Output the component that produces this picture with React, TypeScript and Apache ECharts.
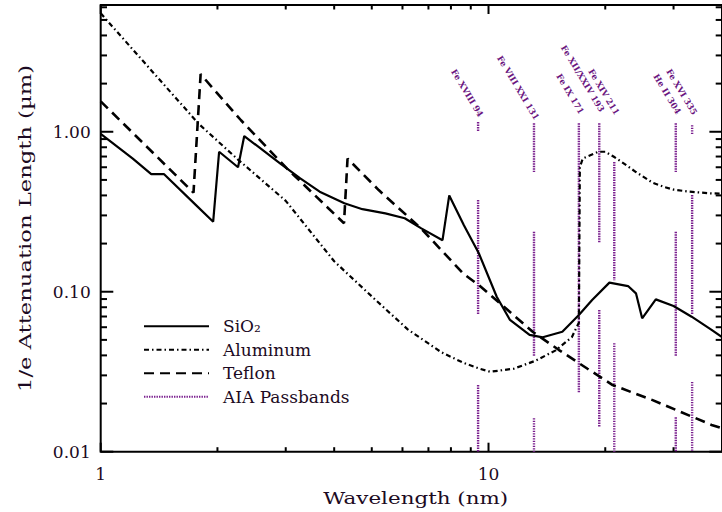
import React, { useEffect, useRef } from 'react';
import * as echarts from 'echarts';

// ---- data ----
const xRange: [number, number] = [1, 40];
const yRange: [number, number] = [0.01, 6.2];

const sio2: [number, number][] = [
  [1, 0.97], [1.21, 0.68], [1.35, 0.544], [1.455, 0.544], [1.75, 0.353], [1.95, 0.274],
  [2.02, 0.75], [2.26, 0.6], [2.345, 0.94], [2.9, 0.635], [3.27, 0.511], [3.67, 0.422],
  [4.25, 0.357], [4.73, 0.328], [5.42, 0.309], [6.08, 0.288], [6.71, 0.249], [7.61, 0.21],
  [7.92, 0.4], [8.64, 0.26], [9.44, 0.174], [10.5, 0.093], [11.36, 0.0666], [12.76, 0.0537],
  [13.8, 0.0519], [15.5, 0.0562], [17.1, 0.0715], [18.5, 0.0887], [20.5, 0.114], [22.9, 0.1085],
  [24.0, 0.0977], [24.9, 0.0682], [27.0, 0.0896], [30.0, 0.0814], [33.4, 0.0698], [37.6, 0.0577],
  [40, 0.052],
];

const aluminum: [number, number][] = [
  [1, 5.5], [1.79, 1.12], [2.26, 0.67], [3.0, 0.37], [4.0, 0.155], [5.11, 0.089], [6.2, 0.058],
  [7.54, 0.042], [8.6, 0.036], [9.5, 0.033], [10.1, 0.0316], [11.6, 0.033], [13.2, 0.037],
  [14.9, 0.043], [16.4, 0.052], [17.1, 0.064], [17.2, 0.6], [17.5, 0.68], [18.0, 0.7],
  [19.2, 0.75], [20.0, 0.75], [21.0, 0.7], [22.0, 0.65], [24.0, 0.56], [26.5, 0.48],
  [28.5, 0.45], [30.0, 0.435], [33.0, 0.422], [37.5, 0.412], [40, 0.41],
];

const teflon: [number, number][] = [
  [1, 1.55], [1.735, 0.416], [1.81, 2.29], [2.3, 1.18], [3.02, 0.59], [4.24, 0.268],
  [4.33, 0.68], [5.21, 0.432], [6.71, 0.248], [8.6, 0.13], [9.44, 0.11], [11.0, 0.08],
  [13.0, 0.0562], [15.2, 0.0432], [18.0, 0.033], [20.9, 0.0261], [26.5, 0.021],
  [33.4, 0.0166], [37.6, 0.0147], [40, 0.014],
];

const passbandWavelengths = [9.4, 13.1, 17.1, 19.3, 21.1, 30.4, 33.5];
const passbandSegments: [number, number][][] = [
  [[1.15, 1.01], [0.374, 0.0715], [0.0261, 0.01]],
  [[1.13, 0.56], [0.237, 0.0392], [0.0162, 0.01]],
  [[1.13, 0.0232]],
  [[1.13, 0.204], [0.0769, 0.0142]],
  [[0.646, 0.118], [0.0477, 0.01]],
  [[1.13, 0.56], [0.237, 0.0392], [0.0164, 0.01]],
  [[1.1, 0.97], [0.402, 0.0715], [0.0273, 0.01]],
];
const passbandLabels = [
  'Fe XVIII 94', 'Fe VIII XXI 131', 'Fe IX 171', 'Fe XII/XXIV 193', 'Fe XIV 211', 'He II 304', 'Fe XVI 335',
];
const passbandLabelY = [1.2, 1.15, 1.25, 1.29, 1.235, 1.25, 1.235];

const xTicks = [1, 2, 3, 4, 5, 6, 7, 8, 9, 10, 20, 30, 40];
const yTicks = [
  0.01, 0.02, 0.03, 0.04, 0.05, 0.06, 0.07, 0.08, 0.09,
  0.1, 0.2, 0.3, 0.4, 0.5, 0.6, 0.7, 0.8, 0.9,
  1, 2, 3, 4, 5, 6,
];

const seriesNames = ['SiO\u2082', 'Aluminum', 'Teflon', 'AIA Passbands'];
const xTitle = 'Wavelength (nm)';
const yTitle = '1/e Attenuation Length (\u00b5m)';

// ---- styling ----
const TEXT = '#1c0a22';
const PURPLE = '#7a1f8e';
const LABEL_PURPLE = '#6a1580';
const FONT = '"DejaVu Serif", serif';

const isPow10 = (v: number) => {
  const l = Math.log10(v);
  return Math.abs(l - Math.round(l)) < 1e-6;
};

function measure(text: string, font: string): number {
  const c = document.createElement('canvas');
  const ctx = c.getContext('2d');
  if (!ctx) return text.length * 9;
  ctx.font = font;
  return ctx.measureText(text).width;
}

export default function App() {
  const ref = useRef<HTMLDivElement>(null);

  useEffect(() => {
    if (!ref.current) return;
    const chart = echarts.init(ref.current, null, { renderer: 'svg' });

    const passbandData: any[] = [];
    passbandWavelengths.forEach((wl, i) => {
      passbandSegments[i].forEach(([a, b]) => {
        passbandData.push([wl, a], [wl, b], [wl, '-']);
      });
    });

    const tickData: number[][] = [
      ...xTicks.map((v) => [v, yRange[0], isPow10(v) ? 0 : 1]),
      ...yTicks.map((v) => [xRange[0], v, isPow10(v) ? 2 : 3]),
    ];

    const titleFont = `16px ${FONT}`;
    const xScale = 185 / measure(xTitle, '16px "DejaVu Serif"');
    const yScale = 327 / measure(yTitle, '16px "DejaVu Serif"');

    const option: any = {
      animation: false,
      grid: {
        left: 100.7,
        top: 5,
        right: -10.4,
        bottom: 60.3,
        show: true,
        borderColor: '#000',
        borderWidth: 2,
        backgroundColor: 'transparent',
      },
      xAxis: {
        type: 'log',
        logBase: 10,
        min: xRange[0],
        max: xRange[1],
        axisLine: { show: false },
        axisTick: { show: false },
        splitLine: { show: false },
        minorTick: { show: false },
        axisLabel: {
          margin: 14,
          fontSize: 17,
          fontFamily: FONT,
          color: TEXT,
          showMaxLabel: false,
          formatter: (v: number) => (isPow10(v) ? String(Math.round(v)) : ''),
        },
      },
      yAxis: {
        type: 'log',
        logBase: 10,
        min: yRange[0],
        max: yRange[1],
        axisLine: { show: false },
        axisTick: { show: false },
        splitLine: { show: false },
        axisLabel: {
          margin: 10,
          fontSize: 17,
          fontFamily: FONT,
          color: TEXT,
          showMaxLabel: false,
          formatter: (v: number) => (isPow10(v) ? v.toFixed(2) : ''),
        },
      },
      legend: {
        data: seriesNames,
        orient: 'vertical',
        left: 143,
        top: 317.7,
        padding: 0,
        itemWidth: 65,
        itemHeight: 18,
        itemGap: 6.5,
        selectedMode: false,
        itemStyle: { color: 'rgba(0,0,0,0)', borderWidth: 0, opacity: 0 },
        textStyle: {
          fontSize: 17,
          fontFamily: FONT,
          color: TEXT,
          padding: [0, 0, 0, 9],
        },
      },
      graphic: [
        {
          type: 'text',
          x: 415.8,
          y: 498,
          scaleX: xScale,
          silent: true,
          style: {
            text: xTitle,
            font: titleFont,
            fill: TEXT,
            align: 'center',
            verticalAlign: 'middle',
            textAlign: 'center',
            textVerticalAlign: 'middle',
          },
        },
        {
          type: 'text',
          x: 26,
          y: 228.5,
          rotation: Math.PI / 2,
          scaleX: yScale,
          silent: true,
          style: {
            text: yTitle,
            font: titleFont,
            fill: TEXT,
            align: 'center',
            verticalAlign: 'middle',
            textAlign: 'center',
            textVerticalAlign: 'middle',
          },
        },
      ],
      series: [
        {
          name: seriesNames[3],
          type: 'line',
          data: passbandData,
          symbol: 'none',
          connectNulls: false,
          z: 1,
          silent: true,
          lineStyle: { color: PURPLE, width: 2.4, type: [1.4, 1.1] },
          itemStyle: { color: PURPLE },
        },
        {
          name: seriesNames[0],
          type: 'line',
          data: sio2,
          symbol: 'none',
          z: 3,
          silent: true,
          lineStyle: { color: '#000', width: 2.2, type: 'solid' },
          itemStyle: { color: '#000' },
        },
        {
          name: seriesNames[1],
          type: 'line',
          data: aluminum,
          symbol: 'none',
          z: 3,
          silent: true,
          lineStyle: { color: '#000', width: 2.2, type: [5, 3, 1.5, 3] },
          itemStyle: { color: '#000' },
        },
        {
          name: seriesNames[2],
          type: 'line',
          data: teflon,
          symbol: 'none',
          z: 3,
          silent: true,
          lineStyle: { color: '#000', width: 2.6, type: [10, 6] },
          itemStyle: { color: '#000' },
        },
        {
          name: 'ticks',
          type: 'custom',
          data: tickData,
          silent: true,
          z: 5,
          encode: { x: 0, y: 1 },
          renderItem: (params: any, api: any) => {
            const kind = api.value(2);
            const cs = params.coordSys;
            const p = api.coord([api.value(0), api.value(1)]);
            const st = { stroke: '#000', lineWidth: 2 };
            if (kind < 2) {
              const len = kind === 0 ? 9 : 4.5;
              const x = p[0];
              const yb = cs.y + cs.height;
              return {
                type: 'group',
                children: [
                  { type: 'line', shape: { x1: x, y1: yb, x2: x, y2: yb - len }, style: st },
                  { type: 'line', shape: { x1: x, y1: cs.y, x2: x, y2: cs.y + len }, style: st },
                ],
              };
            }
            const len = kind === 2 ? 12.6 : 6.3;
            const y = p[1];
            const xr = cs.x + cs.width;
            return {
              type: 'group',
              children: [
                { type: 'line', shape: { x1: cs.x, y1: y, x2: cs.x + len, y2: y }, style: st },
                { type: 'line', shape: { x1: xr, y1: y, x2: xr - len, y2: y }, style: st },
              ],
            };
          },
        },
        {
          name: 'passband labels',
          type: 'custom',
          data: passbandWavelengths.map((wl, i) => [wl, passbandLabelY[i], i]),
          silent: true,
          z: 4,
          encode: { x: 0, y: 1 },
          renderItem: (params: any, api: any) => {
            const p = api.coord([api.value(0), api.value(1)]);
            return {
              type: 'text',
              x: p[0] + 3,
              y: p[1] - 3,
              rotation: (-59 * Math.PI) / 180,
              style: {
                text: passbandLabels[api.value(2)],
                font: `bold 8.5px ${FONT}`,
                fill: LABEL_PURPLE,
                align: 'right',
                verticalAlign: 'middle',
                textAlign: 'right',
                textVerticalAlign: 'middle',
              },
            };
          },
        },
      ],
    };

    chart.setOption(option);
    return () => chart.dispose();
  }, []);

  return (
    <div
      ref={ref}
      style={{ position: 'fixed', left: 0, top: 0, width: 722, height: 512, background: '#fff' }}
    />
  );
}
